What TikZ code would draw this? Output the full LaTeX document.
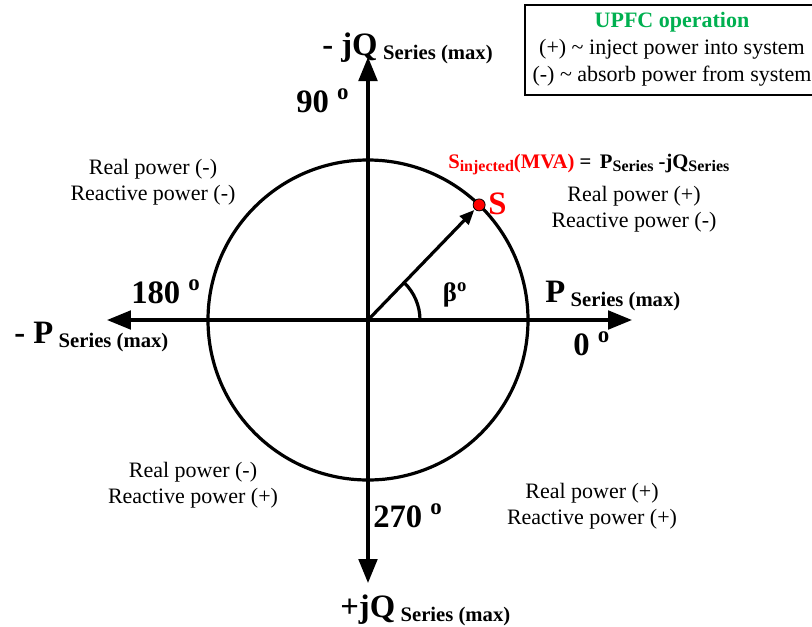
\documentclass[tikz,border=0pt]{standalone}
\usepackage{fontspec}
\setmainfont{Liberation Serif}
\usetikzlibrary{arrows.meta}
\definecolor{upfcgreen}{RGB}{0,176,80}
\newcommand{\bigtxt}{\fontsize{24.5}{28}\selectfont\bfseries}
\newcommand{\subtxt}[1]{\raisebox{-3pt}{\fontsize{15.5}{18}\selectfont\bfseries #1}}
\newcommand{\eqsub}[1]{\raisebox{-2.5pt}{\fontsize{12}{14}\selectfont #1}}
\newcommand{\degsym}{\textsuperscript{o}}

\begin{document}
\begin{tikzpicture}[x=0.75pt,y=0.75pt,
    axis/.style={line width=2.4pt, -{Triangle[length=18pt,width=14pt]}},
    lbl/.style={font=\fontsize{16.5}{19.5}\selectfont, align=center, inner sep=0pt},
    big/.style={font=\bigtxt, anchor=base west, inner sep=0pt}]
    \clip (-368,-306) rectangle (444,320);
    % axes and circle
    \coordinate (O) at (0,0);
    \coordinate (W) at (-261,0);
    \coordinate (E) at (264,0);
    \coordinate (N) at (0,263);
    \coordinate (D) at (0,-263);
    \draw[line width=2.4pt] (O) circle (160);
    \draw[axis] (O) -- (W);
    \draw[axis] (O) -- (E);
    \draw[axis] (O) -- (N);
    \draw[axis] (O) -- (D);
    % injected vector
    \coordinate (Spt) at (46:160);
    \coordinate (Stip) at (46:153);
    \draw[line width=2.4pt, -{Triangle[length=11pt,width=9pt]}] (O) -- (Stip);
    \draw[line width=2.4pt] (52,0) arc[start angle=0, end angle=46, radius=52];
    \node[circle, draw=black, line width=0.6pt, fill=red, minimum size=9pt, inner sep=0pt] (Sdot) at (Spt) {};
    \node[big, text=red] (Slab) at (120,106) {S};
    \node[font=\fontsize{20}{24}\selectfont\bfseries, inner sep=0pt] (beta) at (87,25) {β\textsuperscript{o}};
    % axis labels
    \node[big] (jqn) at (-46,265) {- jQ\,\subtxt{Series (max)}};
    \node[big] (jqp) at (-28,-297) {+jQ\,\subtxt{Series (max)}};
    \node[big] (pn) at (-354,-23) {- P\,\subtxt{Series (max)}};
    \node[big] (pp) at (177,18) {P\,\subtxt{Series (max)}};
    \node[big] (a90) at (-72,208) {90 \degsym};
    \node[big] (a180) at (-237,17) {180 \degsym};
    \node[big] (a0) at (205,-35) {0 \degsym};
    \node[big] (a270) at (5,-207) {270 \degsym};
    % equation
    \node[anchor=base west, inner sep=0pt, font=\fontsize{15.5}{18}\selectfont\bfseries] (eq) at (80,152)
        {\textcolor{red}{S\eqsub{injected}(MVA)} =\, P\eqsub{Series} -jQ\eqsub{Series}};
    % quadrants
    \node[lbl] (q1) at (266,111) {Real power (+)\\Reactive power (-)};
    \node[lbl] (q2) at (-215,138) {Real power (-)\\Reactive power (-)};
    \node[lbl] (q3) at (-175,-165) {Real power (-)\\Reactive power (+)};
    \node[lbl] (q4) at (224,-186) {Real power (+)\\Reactive power (+)};
    % legend box
    \draw[line width=1.5pt] (157,225) rectangle (470,315);
    \node[lbl, font=\fontsize{16.5}{20.25}\selectfont] (info) at (304,271)
        {\textcolor{upfcgreen}{\bfseries UPFC operation}\\(+) \textasciitilde{} inject power into system\\(-) \textasciitilde{} absorb power from system};
\end{tikzpicture}
\end{document}
